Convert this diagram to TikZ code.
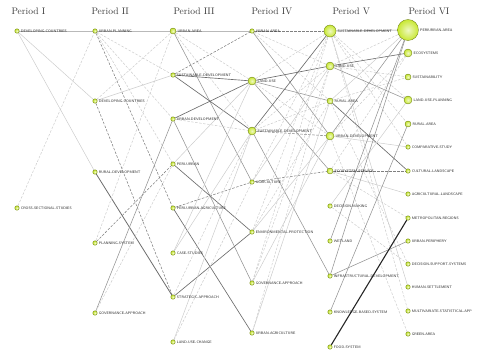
\documentclass[tikz,border=0pt]{standalone}
\usepackage{tikz}
\usetikzlibrary{positioning,backgrounds}
\definecolor{topicfill}{RGB}{200,232,50}
\definecolor{topicedge}{RGB}{105,125,15}
\definecolor{headgray}{RGB}{60,60,60}

\begin{document}
\begin{tikzpicture}[
  x=1pt,y=-1pt,
  topic/.style={circle,draw=topicedge,line width=0.35pt,inner color=topicfill!30!white,outer color=topicfill,inner sep=0pt,minimum size=4.5pt},
  md/.style={minimum size=6pt},
  lg/.style={minimum size=8pt},
  xl/.style={minimum size=12pt},
  xxl/.style={minimum size=21pt},
  lbl/.style={font=\fontsize{3.6}{4}\sffamily,text=black!85,inner sep=0.4pt},
  period/.style={anchor=west,font=\fontsize{9.5}{11}\selectfont,text=headgray},
  every label/.style={lbl},
  label distance=0.8pt,
  top/.style={draw=gray!55,line width=1pt},
  sdark/.style={draw=gray!85!black,line width=0.65pt},
  smid/.style={draw=gray!85,line width=0.55pt},
  slight/.style={draw=gray!40,line width=0.5pt},
  dmid/.style={draw=gray,dash pattern=on 2.5pt off 1.5pt,line width=0.55pt},
  dlight/.style={draw=gray!40,dash pattern=on 2.5pt off 1.5pt,line width=0.5pt}
]
\useasboundingbox (0,0) rectangle (480,354);

% period headings
\node[period] (hI) at (8,11) {Period I};
\node[period] (hII) at (88,11) {Period II};
\node[period] (hIII) at (170,11) {Period III};
\node[period] (hIV) at (248,11) {Period IV};
\node[period] (hV) at (329,11) {Period V};
\node[period] (hVI) at (405,11) {Period VI};

% Period I
\node[topic,label={[name=dcIt]right:DEVELOPING-COUNTRIES}] (dcI) at (17,31) {};
\node[topic,label={[name=cssIt]right:CROSS-SECTIONAL-STUDIES}] (cssI) at (17,208) {};

% Period II
\node[topic,label={[name=upIIt]right:URBAN-PLANNING}] (upII) at (95,31) {};
\node[topic,label={[name=dcIIt]right:DEVELOPING-COUNTRIES}] (dcII) at (95,101) {};
\node[topic,label={[name=rdIIt]right:RURAL-DEVELOPMENT}] (rdII) at (95,172) {};
\node[topic,label={[name=psIIt]right:PLANNING-SYSTEM}] (psII) at (95,243) {};
\node[topic,label={[name=gaIIt]right:GOVERNANCE-APPROACH}] (gaII) at (95,313) {};

% Period III
\node[topic,md,label={[name=uaIIIt]right:URBAN-AREA}] (uaIII) at (173,31) {};
\node[topic,label={[name=sdIIIt]right:SUSTAINABLE-DEVELOPMENT}] (sdIII) at (173,75) {};
\node[topic,label={[name=udIIIt]right:URBAN-DEVELOPMENT}] (udIII) at (173,119) {};
\node[topic,label={[name=puIIIt]right:PERI-URBAN}] (puIII) at (173,164) {};
\node[topic,label={[name=puaIIIt]right:PERI-URBAN-AGRICULTURE}] (puaIII) at (173,208) {};
\node[topic,label={[name=csIIIt]right:CASE-STUDIES}] (csIII) at (173,253) {};
\node[topic,label={[name=saIIIt]right:STRATEGIC-APPROACH}] (saIII) at (173,297) {};
\node[topic,label={[name=lucIIIt]right:LAND-USE-CHANGE}] (lucIII) at (173,342) {};

% Period IV
\node[topic,label={[name=uaIVt]right:URBAN-AREA}] (uaIV) at (252,31) {};
\node[topic,lg,label={[name=luIVt]right:LAND-USE}] (luIV) at (252,81) {};
\node[topic,lg,label={[name=sdIVt]right:SUSTAINABLE-DEVELOPMENT}] (sdIV) at (252,131) {};
\node[topic,label={[name=agIVt]right:AGRICULTURE}] (agIV) at (252,182) {};
\node[topic,label={[name=epIVt]right:ENVIRONMENTAL-PROTECTION}] (epIV) at (252,232) {};
\node[topic,label={[name=gaIVt]right:GOVERNANCE-APPROACH}] (gaIV) at (252,283) {};
\node[topic,label={[name=uagIVt]right:URBAN-AGRICULTURE}] (uagIV) at (252,333) {};

% Period V
\node[topic,xl,label={[name=sdVt]right:SUSTAINABLE-DEVELOPMENT}] (sdV) at (330,31) {};
\node[topic,lg,label={[name=luVt]right:LAND-USE}] (luV) at (330,66) {};
\node[topic,md,label={[name=raVt]right:RURAL-AREA}] (raV) at (330,101) {};
\node[topic,lg,label={[name=udVt]right:URBAN-DEVELOPMENT}] (udV) at (330,136) {};
\node[topic,md,label={[name=esVt]right:ECOSYSTEM-SERVICE}] (esV) at (330,171) {};
\node[topic,label={[name=dmVt]right:DECISION-MAKING}] (dmV) at (330,206) {};
\node[topic,label={[name=wlVt]right:WETLAND}] (wlV) at (330,241) {};
\node[topic,label={[name=idVt]right:INFRASTRUCTURAL-DEVELOPMENT}] (idV) at (330,276) {};
\node[topic,label={[name=kbsVt]right:KNOWLEDGE-BASED-SYSTEM}] (kbsV) at (330,312) {};
\node[topic,label={[name=fsVt]right:FOOD-SYSTEM}] (fsV) at (330,347) {};

% Period VI
\node[topic,xxl,label={[name=paVIt]right:PERIURBAN-AREA}] (paVI) at (408,30) {};
\node[topic,lg,label={[name=ecVIt]right:ECOSYSTEMS}] (ecVI) at (408,53) {};
\node[topic,md,label={[name=suVIt]right:SUSTAINABILITY}] (suVI) at (408,77) {};
\node[topic,lg,label={[name=lupVIt]right:LAND-USE-PLANNING}] (lupVI) at (408,100) {};
\node[topic,md,label={[name=raVIt]right:RURAL-AREA}] (raVI) at (408,124) {};
\node[topic,label={[name=cstVIt]right:COMPARATIVE-STUDY}] (cstVI) at (408,147) {};
\node[topic,label={[name=clVIt]right:CULTURAL-LANDSCAPE}] (clVI) at (408,171) {};
\node[topic,label={[name=alVIt]right:AGRICULTURAL-LANDSCAPE}] (alVI) at (408,194) {};
\node[topic,label={[name=mrVIt]right:METROPOLITAN-REGIONS}] (mrVI) at (408,218) {};
\node[topic,label={[name=upVIt]right:URBAN-PERIPHERY}] (upVI) at (408,241) {};
\node[topic,label={[name=dssVIt]right:DECISION-SUPPORT-SYSTEMS}] (dssVI) at (408,264) {};
\node[topic,label={[name=hsVIt]right:HUMAN-SETTLEMENT}] (hsVI) at (408,287) {};
\node[topic,label={[name=msaVIt]right:MULTIVARIATE-STATISTICAL-APP}] (msaVI) at (408,311) {};
\node[topic,label={[name=gaVIt]right:GREEN-AREA}] (gaVI) at (408,334) {};

\begin{scope}[on background layer]
% I -> II
\draw[top] (dcI) -- (upII);
\draw[slight] (dcI) -- (dcII);
\draw[slight] (dcI) -- (rdII);
\draw[dlight] (cssI) -- (upII);
% II -> III
\draw[top] (upII) -- (uaIII);
\draw[dlight] (upII) -- (sdIII);
\draw[dmid] (upII) -- (puaIII);
\draw[dlight] (upII) -- (puIII);
\draw[dlight] (upII) -- (udIII);
\draw[dlight] (dcII) -- (uaIII);
\draw[slight] (dcII) -- (sdIII);
\draw[dmid] (dcII) -- (saIII);
\draw[sdark,line width=0.8pt] (rdII) -- (saIII);
\draw[dmid] (psII) -- (puIII);
\draw[dlight] (psII) -- (uaIII);
\draw[smid] (gaII) -- (udIII);
\draw[dlight] (gaII) -- (puIII);
% III -> IV
\draw[top] (uaIII) -- (uaIV);
\draw[dlight] (uaIII) -- (luIV);
\draw[dlight] (uaIII) -- (sdIV);
\draw[smid] (uaIII) -- (agIV);
\draw[dmid] (sdIII) -- (uaIV);
\draw[sdark] (sdIII) -- (luIV);
\draw[sdark] (sdIII) -- (sdIV);
\draw[sdark] (udIII) -- (luIV);
\draw[dlight] (udIII) -- (sdIV);
\draw[smid] (udIII) -- (gaIV);
\draw[sdark] (puIII) -- (epIV);
\draw[slight] (puIII) -- (luIV);
\draw[dmid] (puaIII) -- (agIV);
\draw[sdark] (puaIII) -- (uagIV);
\draw[slight] (csIII) -- (sdIV);
\draw[slight] (csIII) -- (luIV);
\draw[sdark] (saIII) -- (epIV);
\draw[dlight] (saIII) -- (sdIV);
\draw[slight] (lucIII) -- (sdIV);
\draw[dlight] (lucIII) -- (agIV);
% IV -> V
\draw[dmid] (uaIV) -- (sdV);
\draw[smid] (uaIV) -- (udV);
\draw[dlight] (uaIV) -- (raV);
\draw[dlight] (uaIV) -- (luV);
\draw[sdark] (luIV) -- (luV);
\draw[smid] (luIV) -- (raV);
\draw[smid] (luIV) -- (esV);
\draw[dlight] (luIV) -- (sdV);
\draw[dlight] (luIV) -- (udV);
\draw[sdark] (sdIV) -- (sdV);
\draw[dmid] (sdIV) -- (udV);
\draw[smid] (sdIV) -- (idV);
\draw[dlight] (sdIV) -- (raV);
\draw[dlight] (sdIV) -- (luV);
\draw[dmid] (agIV) -- (esV);
\draw[slight] (agIV) -- (luV);
\draw[dlight] (agIV) -- (sdV);
\draw[slight] (epIV) -- (udV);
\draw[dlight] (epIV) -- (sdV);
\draw[dlight] (epIV) -- (raV);
\draw[slight] (gaIV) -- (udV);
\draw[dlight] (gaIV) -- (luV);
\draw[dlight] (gaIV) -- (sdV);
\draw[slight] (uagIV) -- (raV);
\draw[dlight] (uagIV) -- (luV);
% V -> VI
\draw[smid] (sdV) -- (paVI);
\draw[dlight] (sdV) -- (lupVI);
\draw[dlight] (sdV) -- (raVI);
\draw[dlight] (sdV) -- (cstVI);
\draw[dlight] (sdV) -- (msaVI);
\draw[slight] (sdV) -- (hsVI);
\draw[sdark] (luV) -- (ecVI);
\draw[smid] (luV) -- (lupVI);
\draw[dlight] (luV) -- (paVI);
\draw[dlight] (luV) -- (suVI);
\draw[sdark] (raV) -- (clVI);
\draw[dlight] (raV) -- (suVI);
\draw[slight] (raV) -- (paVI);
\draw[dlight] (raV) -- (dssVI);
\draw[smid] (udV) -- (paVI);
\draw[dlight] (udV) -- (ecVI);
\draw[slight] (udV) -- (cstVI);
\draw[dlight] (udV) -- (gaVI);
\draw[dmid] (esV) -- (clVI);
\draw[slight] (esV) -- (alVI);
\draw[dlight] (esV) -- (ecVI);
\draw[dlight] (esV) -- (mrVI);
\draw[slight] (dmV) -- (lupVI);
\draw[dlight] (dmV) -- (dssVI);
\draw[smid] (wlV) -- (paVI);
\draw[smid] (idV) -- (upVI);
\draw[smid] (idV) -- (paVI);
\draw[smid] (kbsV) -- (raVI);
\draw[draw=black!85,line width=1.1pt] (fsV) -- (mrVI);
\end{scope}

\end{tikzpicture}
\end{document}
